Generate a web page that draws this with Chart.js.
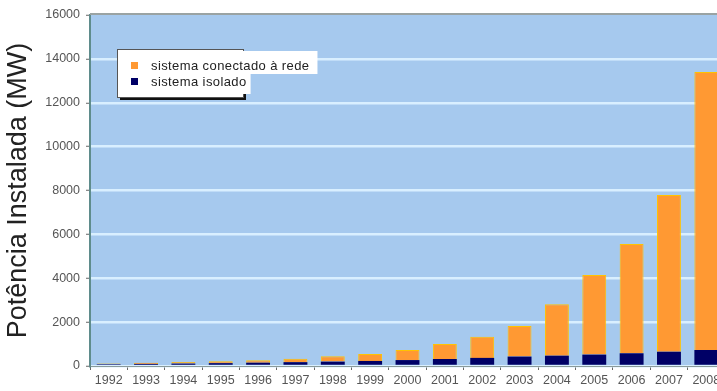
<!DOCTYPE html>
<html><head><meta charset="utf-8">
<script src="https://cdn.jsdelivr.net/npm/chart.js@4/dist/chart.umd.min.js"></script>
<style>
html,body{margin:0;padding:0;background:#fff;overflow:hidden;width:717px;height:391px;}
#wrap{position:absolute;left:0;top:0;width:735px;height:391px;}
</style></head>
<body>
<div id="wrap"><canvas id="c" width="735" height="391"></canvas></div>
<script>
const years = ['1992','1993','1994','1995','1996','1997','1998','1999','2000','2001','2002','2003','2004','2005','2006','2007','2008'];
const isolated = [80, 95, 110, 130, 150, 175, 200, 230, 270, 320, 370, 430, 470, 520, 580, 650, 730];
const connected = [30, 55, 70, 90, 110, 155, 240, 320, 460, 680, 960, 1390, 2350, 3630, 4980, 7150, 12670];
const yTicks = [0, 2000, 4000, 6000, 8000, 10000, 12000, 14000, 16000];
const labelConnected = 'sistema conectado à rede';
const labelIsolated = 'sistema isolado';
const yTitle = 'Potência Instalada (MW)';

const FONT = '"Liberation Sans", Arial, sans-serif';

const bgPlugin = {
  id: 'bg',
  beforeDraw(chart) {
    const {ctx, chartArea: a} = chart;
    ctx.save();
    ctx.fillStyle = '#A6C9EE';
    ctx.fillRect(a.left, a.top, a.right - a.left, a.bottom - a.top);
    ctx.restore();
  },
  afterDraw(chart) {
    const {ctx, chartArea: a} = chart;
    ctx.save();
    ctx.strokeStyle = '#9aa3a3';
    ctx.lineWidth = 2;
    ctx.beginPath(); ctx.moveTo(a.left, a.top - 1); ctx.lineTo(a.right, a.top - 1); ctx.stroke();
    // legend
    const x = 117, y = 49, w = 126, h = 48;
    ctx.fillStyle = '#111';
    ctx.fillRect(x + 3, y + 3, w, h);
    ctx.fillStyle = '#fff';
    ctx.fillRect(x, y, w, h);
    ctx.strokeStyle = '#555'; ctx.lineWidth = 1;
    ctx.strokeRect(x + 0.5, y + 0.5, w, h);
    ctx.font = '13px ' + FONT;
    try { ctx.letterSpacing = '0.4px'; } catch (e) {}
    ctx.textBaseline = 'middle';
    const t1 = ctx.measureText(labelConnected).width;
    const t2 = ctx.measureText(labelIsolated).width;
    ctx.fillStyle = '#fff';
    ctx.fillRect(145, 51, t1 + 14, 23);
    ctx.fillRect(145, 74, t2 + 10, 20);
    ctx.fillStyle = '#FF9933';
    ctx.fillRect(131, 62, 7, 7);
    ctx.fillStyle = '#000066';
    ctx.fillRect(131, 78, 7, 7);
    ctx.fillStyle = '#222';
    ctx.fillText(labelConnected, 151, 66);
    ctx.fillText(labelIsolated, 151, 82);
    ctx.restore();
  }
};

new Chart(document.getElementById('c'), {
  type: 'bar',
  data: {
    labels: years,
    datasets: [
      { label: labelIsolated, data: isolated, backgroundColor: '#000066', borderWidth: 0 },
      { label: labelConnected, data: connected, backgroundColor: '#FF9933', borderColor: '#FFC300', borderWidth: 1 }
    ]
  },
  options: {
    responsive: false,
    animation: false,
    layout: { padding: { top: 15, right: 10, bottom: 0, left: 0 } },
    plugins: { legend: { display: false }, tooltip: { enabled: false } },
    datasets: { bar: { barPercentage: 0.64, categoryPercentage: 1 } },
    scales: {
      x: {
        stacked: true,
        afterFit(s) { s.height = 25; },
        grid: { display: true, drawOnChartArea: false, offset: true, tickLength: 4, tickColor: '#666', color: '#666' },
        border: { color: '#8a9a9a', width: 1 },
        ticks: { color: '#555', font: { size: 12.5, family: FONT }, maxRotation: 0, autoSkip: false, padding: 3 }
      },
      y: {
        stacked: true,
        min: 0, max: 16000,
        afterFit(s) { s.width = 90; },
        afterBuildTicks(s) { s.ticks = yTicks.map(v => ({ value: v })); },
        grid: { color: (c) => c.tick && c.tick.value === 16000 ? 'rgba(0,0,0,0)' : '#D9EFFF', lineWidth: 2.5, tickLength: 4, tickColor: '#666', tickWidth: 1 },
        border: { color: '#5F8C8C', width: 2 },
        ticks: { color: '#555', font: { size: 12.5, family: FONT }, padding: 6, callback: (v) => String(v) },
        title: { display: true, text: yTitle, color: '#222', font: { size: 27, family: FONT }, padding: { top: 2, bottom: 0 } }
      }
    }
  },
  plugins: [bgPlugin]
});
</script>
</body></html>
